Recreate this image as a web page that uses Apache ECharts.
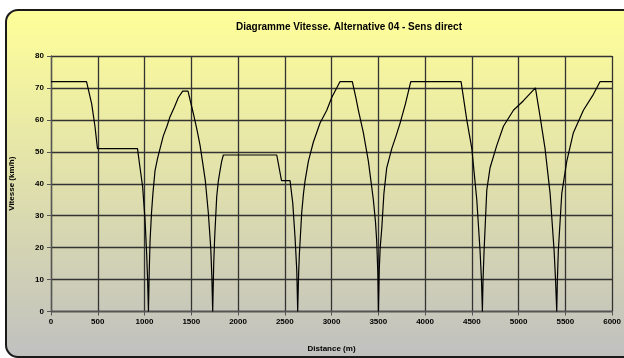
<!DOCTYPE html>
<html>
<head>
<meta charset="utf-8">
<script src="https://cdn.jsdelivr.net/npm/echarts@6/dist/echarts.min.js"></script>
<style>
html,body{margin:0;padding:0;background:#fff;}
#c{width:624px;height:358px;}
</style>
</head>
<body>
<div id="c"></div>
<script>
const titleText = "Diagramme Vitesse. Alternative 04 - Sens direct";
const xName = "Distance (m)";
const yName = "Vitesse (km/h)";
const xTicks = [0,500,1000,1500,2000,2500,3000,3500,4000,4500,5000,5500,6000];
const yTicks = [0,10,20,30,40,50,60,70,80];
const distance = [0,380,435,470,497,925,952,980,1005,1023,1033,1042,
 1050,1059,1075,1090,1112,1140,1166,1201,1240,1273,1320,1362,1408,1465,
 1522,1560,1594,1625,1650,1682,1708,1720,1729,
 1740,1750,1772,1790,1807,1825,1843,2414,2465,2556,2585,2610,2628,2638,
 2648,2656,2681,2700,2717,2752,2805,2877,2949,3002,3091,3222,
 3260,3287,3340,3394,3447,3470,3483,3495,3501,
 3510,3520,3537,3560,3590,3644,3690,3733,3790,3847,4385,
 4446,4500,4553,4588,4603,4613,
 4620,4631,4660,4695,4767,4838,4945,5052,5180,
 5230,5283,5337,5380,5395,5408,
 5415,5425,5462,5515,5586,5693,5800,5872,6000];
const speed = [72,72,65,58,51,51,45,39,29,18,10,0,
 12,22,31,37,44,48,51,55,58,61,64,67,69,69,
 62,57,52,46,41,31,20,11,0,
 15,23,36,41,44,47,49,49,41,41,34,23,13,0,
 12,18,31,37,41,47,53,59,63,67,72,72,
 67,63,56,47,35,28,22,12,0,
 13,20,26,37,45,51,55,59,65,72,72,
 60,51,35,19,10,0,
 10,19,38,45,52,58,63,66,70,
 61,51,37,19,10,0,
 10,19,37,47,56,63,68,72,72];

const chart = echarts.init(document.getElementById('c'), null, {renderer:'canvas'});
const FF = '"Liberation Sans", Arial, sans-serif';
chart.setOption({
  animation:false,
  backgroundColor:'#ffffff',
  graphic:[{
    type:'rect', z:-10, silent:true,
    shape:{x:6,y:10,width:650,height:347,r:12},
    style:{
      fill:new echarts.graphic.LinearGradient(0,0,0,1,[
        {offset:0,color:'#FFFF99'},{offset:1,color:'#C0C0C0'}]),
      stroke:'#1a1a1a', lineWidth:2
    }
  }],
  title:{
    text:titleText, left:344, top:17, textAlign:'center',
    textStyle:{fontFamily:FF,fontSize:10,fontWeight:'bold',color:'#000'}
  },
  grid:{left:51,right:11,top:56,bottom:46.5,containLabel:false},
  xAxis:{
    type:'value', min:xTicks[0], max:xTicks[xTicks.length-1], interval:500,
    name:xName, nameLocation:'middle', nameGap:33,
    nameTextStyle:{fontFamily:FF,fontSize:8,fontWeight:'bold',color:'#000'},
    axisLine:{lineStyle:{color:'#555',width:1.3}},
    axisTick:{show:true,length:4,lineStyle:{color:'#555'}},
    axisLabel:{fontFamily:FF,fontSize:8,fontWeight:'bold',color:'#000',margin:6,
      formatter:v=>String(v)},
    splitLine:{show:true,lineStyle:{color:'#333',width:1.3}}
  },
  yAxis:{
    type:'value', min:yTicks[0], max:yTicks[yTicks.length-1], interval:10,
    name:yName, nameLocation:'middle', nameGap:35, nameRotate:90,
    nameTextStyle:{fontFamily:FF,fontSize:8,fontWeight:'bold',color:'#000'},
    axisLine:{show:true,lineStyle:{color:'#555',width:1.3}},
    axisTick:{show:true,length:4,lineStyle:{color:'#555'}},
    axisLabel:{fontFamily:FF,fontSize:8,fontWeight:'bold',color:'#000',margin:7,
      formatter:v=>String(v)},
    splitLine:{show:true,lineStyle:{color:'#333',width:1.3}}
  },
  series:[{
    type:'line', data:distance.map((d,i)=>[d,speed[i]]),
    showSymbol:false, symbol:'none', smooth:false,
    lineStyle:{color:'#000',width:1.2}, z:5
  }]
});
</script>
</body>
</html>
